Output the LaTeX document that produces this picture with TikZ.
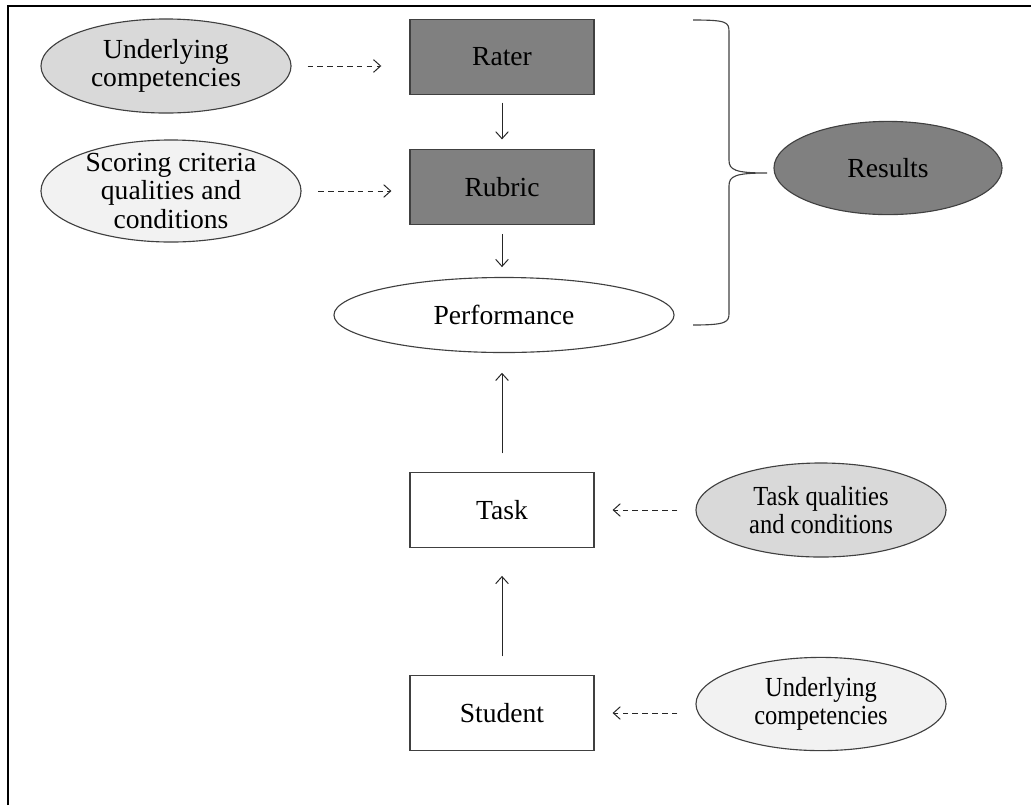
\documentclass[tikz,border=0pt]{standalone}
\usepackage{fontspec}
\setmainfont{Liberation Serif}
\newfontfamily\narrowserif[FakeStretch=0.89]{Liberation Serif}
\usetikzlibrary{shapes.geometric,arrows.meta}

\begin{document}
\begin{tikzpicture}[
    x=0.025cm, y=-0.025cm,
    >={Straight Barb[length=5pt,width=9pt]},
   every node/.style={draw=black!75, line width=0.8pt, align=center,
                      font=\fontsize{19.6}{20.2}\selectfont},
   box/.style={rectangle, minimum width=4.6cm, minimum height=1.86cm},
   oval/.style={ellipse, inner sep=0pt},
   narrow/.style={font=\narrowserif\fontsize{19.6}{20.2}\selectfont},
   dark/.style={fill=black!50},
   mid/.style={fill=black!15},
   pale/.style={fill=black!5},
   flow/.style={->, draw=black!85, line width=0.7pt},
   feed/.style={flow, dash pattern=on 4pt off 3pt}]

\useasboundingbox (0,0) rectangle (1031,805);
\draw[line width=1.4pt] (8,805) -- (8,6) -- (1031,6);

\node[box, dark] (rater) at (502,57) {Rater};
\node[box, dark] (rubric) at (502,187) {Rubric};
\node[oval, minimum width=8.5cm, minimum height=1.875cm] (perf) at (504,315) {Performance};
\node[box] (task) at (502,510) {Task};
\node[box] (student) at (502,713) {Student};

\node[oval, mid, minimum width=6.25cm, minimum height=2.35cm] (compR) at (166,66)
    {Underlying\\competencies};
\node[oval, pale, minimum width=6.5cm, minimum height=2.55cm, inner ysep=-4pt] (crit) at (171,191)
    {Scoring criteria\\qualities and\\conditions};
\node[oval, dark, minimum width=5.7cm, minimum height=2.33cm] (results) at (888,168) {Results};
\node[oval, mid, narrow, minimum width=6.25cm, minimum height=2.35cm] (taskq) at (821,510)
    {Task qualities\\and conditions};
\node[oval, pale, narrow, minimum width=6.25cm, minimum height=2.33cm] (compS) at (821,704)
    {Underlying\\competencies};

\draw[flow, shorten <=5.5pt, shorten >=7pt] (rater) -- (rubric);
\draw[flow, shorten <=6.5pt, shorten >=7pt] (rubric) -- (rubric |- perf.north);
\draw[flow, shorten <=13.5pt, shorten >=14pt] (task) -- (task |- perf.south);
\draw[flow, shorten <=13.5pt, shorten >=20pt] (student) -- (task);

\draw[feed, shorten <=11.4pt, shorten >=20pt] (compR.east) -- (compR.east -| rater.west);
\draw[feed, shorten <=12pt, shorten >=12.8pt] (crit.east) -- (crit.east -| rubric.west);
\draw[feed, shorten <=12.8pt, shorten >=12.8pt] (taskq.west) -- (task.east);
\draw[feed, shorten <=12.8pt, shorten >=12.8pt] (student.east -| compS.west) -- (student.east);

% brace round rater, rubric and performance
\draw[black!75, line width=0.8pt] (693,20) .. controls (727,20) and (729,22) .. (729,32)
    -- (729,160) .. controls (729,170) and (735,173) .. (767,173)
    .. controls (735,173) and (729,176) .. (729,186)
    -- (729,313) .. controls (729,322) and (727,325) .. (693,325);

\end{tikzpicture}
\end{document}
